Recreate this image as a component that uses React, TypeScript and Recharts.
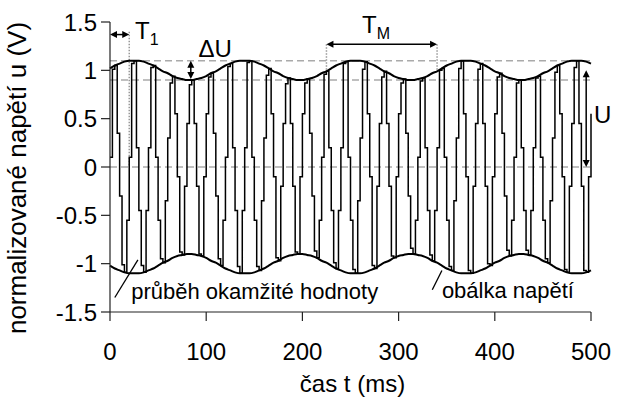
import React from "react"
import { LineChart, Line, XAxis, YAxis, ReferenceLine, ReferenceDot } from "recharts"

const FONT = '"Liberation Sans", Arial, sans-serif'

const xTicks = [0, 100, 200, 300, 400, 500]
const yTicks = [-1.5, -1, -0.5, 0, 0.5, 1, 1.5]

// envelope amplitude (V), one value every 5 ms from 0 to 500 ms
const ENV_STEP = 5
const envelope = [
  1.02, 1.05, 1.07, 1.09, 1.1,
  1.1, 1.1, 1.09, 1.07, 1.05, 1.02, 0.99, 0.97, 0.94, 0.92, 0.91, 0.9, 0.9, 0.91, 0.92, 0.94, 0.97, 0.99, 1.02, 1.05, 1.07, 1.09, 1.1,
  1.1, 1.1, 1.09, 1.07, 1.05, 1.02, 0.99, 0.97, 0.94, 0.92, 0.91, 0.9, 0.9, 0.91, 0.92, 0.94, 0.97, 0.99, 1.02, 1.05, 1.07, 1.09, 1.1,
  1.1, 1.1, 1.09, 1.07, 1.05, 1.02, 0.99, 0.97, 0.94, 0.92, 0.91, 0.9, 0.9, 0.91, 0.92, 0.94, 0.97, 0.99, 1.02, 1.05, 1.07, 1.09, 1.1,
  1.1, 1.1, 1.09, 1.07, 1.05, 1.02, 0.99, 0.97, 0.94, 0.92, 0.91, 0.9, 0.9, 0.91, 0.92, 0.94, 0.97, 0.99, 1.02, 1.05, 1.07, 1.09, 1.1,
  1.1, 1.1, 1.09, 1.07,
]

// sampled instantaneous voltage (V), one sample every 2.5 ms, held between samples
const SAMPLE_STEP = 2.5
const samples = [
  0.1,
  1.01, 1.05, 0.35, -0.3, -1.01, -1.09, -0.55, 0.1, 1.07, 1.1, 0.2, -0.45, -1.02, -1.09, -0.45, 0.2,
  1.03, 1.05, 0.1, -0.55, -0.95, -0.99, -0.35, 0.3, 0.87, 0.94, 0.55, -0.1, -0.88, -0.91, -0.2, 0.45,
  0.85, 0.9, 0.45, -0.2, -0.9, -0.92, -0.1, 0.55, 0.93, 0.97, 0.35, -0.3, -0.95, -1.02, -0.55, 0.1,
  1.04, 1.07, 0.2, -0.45, -1.03, -1.1, -0.45, 0.2, 1.08, 1.1, 0.1, -0.55, -1.03, -1.07, -0.35, 0.3,
  0.95, 1.02, 0.55, -0.1, -0.94, -0.97, -0.2, 0.45, 0.86, 0.92, 0.45, -0.2, -0.88, -0.9, -0.1, 0.55,
  0.87, 0.91, 0.35, -0.3, -0.87, -0.94, -0.55, 0.1, 0.96, 0.99, 0.2, -0.45, -0.99, -1.05, -0.45, 0.2,
  1.07, 1.09, 0.1, -0.55, -1.06, -1.1, -0.35, 0.3, 1.01, 1.09, 0.55, -0.1, -1.02, -1.05, -0.2, 0.45,
  0.93, 0.99, 0.45, -0.2, -0.92, -0.94, -0.1, 0.55, 0.87, 0.91, 0.35, -0.3, -0.84, -0.9, -0.55, 0.1,
  0.89, 0.92, 0.2, -0.45, -0.91, -0.97, -0.45, 0.2, 1.0, 1.02, 0.1, -0.55, -1.03, -1.07, -0.35, 0.3,
  1.02, 1.1, 0.55, -0.1, -1.07, -1.1, -0.2, 0.45, 1.01, 1.07, 0.45, -0.2, -1.0, -1.02, -0.1, 0.55,
  0.93, 0.97, 0.35, -0.3, -0.86, -0.92, -0.55, 0.1, 0.87, 0.9, 0.2, -0.45, -0.86, -0.91, -0.45, 0.2,
  0.92, 0.94, 0.1, -0.55, -0.95, -0.99, -0.35, 0.3, 0.98, 1.05, 0.55, -0.1, -1.06, -1.09, -0.2, 0.45,
  1.03, 1.1, 0.45, -0.2, -1.07, -1.09, -0.1, 0.55,
]

// both series share one time axis; each row carries whichever values exist at that instant
const rows = new Map<number, { t: number; u?: number; top?: number; bottom?: number }>()
samples.forEach((v, i) => {
  const t = i * SAMPLE_STEP
  rows.set(t, { t, u: v })
})
envelope.forEach((e, i) => {
  const t = i * ENV_STEP
  const row = rows.get(t) || { t }
  row.top = e
  row.bottom = -e
  rows.set(t, row)
})
const data = Array.from(rows.values()).sort((a, b) => a.t - b.t)

const fmtY = (v: number) => String(v)

// straight line with an arrow head at both ends
function DoubleArrow(props: any) {
  const { x1, y1, x2, y2 } = props
  const dx = x2 - x1
  const dy = y2 - y1
  const len = Math.hypot(dx, dy) || 1
  const ux = dx / len
  const uy = dy / len
  const hl = 7
  const hw = 3.5
  const head = (x: number, y: number, ax: number, ay: number) =>
    `${x},${y} ${x - ax * hl - ay * hw},${y - ay * hl + ax * hw} ${x - ax * hl + ay * hw},${y - ay * hl - ax * hw}`
  return (
    <g>
      <line x1={x1 + ux * 5} y1={y1 + uy * 5} x2={x2 - ux * 5} y2={y2 - uy * 5} stroke="#000" strokeWidth={1.5} />
      <polygon points={head(x2, y2, ux, uy)} fill="#000" />
      <polygon points={head(x1, y1, -ux, -uy)} fill="#000" />
    </g>
  )
}

const label = (text: string, sub?: string, size = 24) => (p: any) => (
  <text x={p.cx} y={p.cy} fontFamily={FONT} fontSize={size} fill="#000">
    {text}
    {sub && (
      <tspan dy={6} fontSize={16}>
        {sub}
      </tspan>
    )}
  </text>
)

function YTitle(props: any) {
  const vb = props.viewBox || { x: 0 }
  const cx = vb.x + 17
  const cy = 178
  return (
    <text
      x={cx}
      y={cy}
      transform={`rotate(-90 ${cx} ${cy})`}
      textAnchor="middle"
      dominantBaseline="central"
      fontFamily={FONT}
      fontSize={26}
      fill="#000"
    >
      normalizované napětí u (V)
    </text>
  )
}

function XTitle(props: any) {
  const vb = props.viewBox || { x: 110, width: 481 }
  return (
    <text x={vb.x + vb.width / 2 + 2} y={392} textAnchor="middle" fontFamily={FONT} fontSize={24} fill="#000">
      čas t (ms)
    </text>
  )
}

const dashed = { stroke: "#aaa", strokeWidth: 1.5, strokeDasharray: "7 4" }
const dotted = { stroke: "#999", strokeWidth: 1.5, strokeDasharray: "1.5 1.5" }
const axisStroke = { stroke: "#222", strokeWidth: 1.2 }
const tickFont = { fill: "#000", fontSize: 24, fontFamily: FONT }

export default function App() {
  return (
    <div style={{ position: "absolute", left: 0, top: 0, background: "#fff" }}>
      <LineChart width={617} height={401} data={data} margin={{ top: 22, right: 26, bottom: 0, left: 0 }}>
        <XAxis
          dataKey="t"
          type="number"
          domain={[0, 500]}
          ticks={xTicks}
          tickSize={9}
          tickMargin={22}
          height={89}
          axisLine={axisStroke}
          tickLine={axisStroke}
          tick={tickFont}
          label={<XTitle />}
        />
        <YAxis
          type="number"
          domain={[-1.5, 1.5]}
          ticks={yTicks}
          tickFormatter={fmtY}
          tickSize={9}
          tickMargin={4}
          width={110}
          axisLine={axisStroke}
          tickLine={axisStroke}
          tick={tickFont}
          label={<YTitle />}
        />

        <ReferenceLine y={1.1} {...dashed} />
        <ReferenceLine y={0.9} {...dashed} />
        <ReferenceLine y={0} {...dashed} />

        <ReferenceLine segment={[{ x: 20, y: 1.4 }, { x: 20, y: 0 }]} {...dotted} />
        <ReferenceLine segment={[{ x: 225, y: 1.27 }, { x: 225, y: 1.0 }]} {...dotted} />
        <ReferenceLine segment={[{ x: 340, y: 1.27 }, { x: 340, y: 1.0 }]} {...dotted} />

        <Line dataKey="u" type="stepAfter" stroke="#000" strokeWidth={1.5} dot={false} connectNulls isAnimationActive={false} />
        <Line dataKey="top" type="monotone" stroke="#000" strokeWidth={2} dot={false} connectNulls isAnimationActive={false} />
        <Line dataKey="bottom" type="monotone" stroke="#000" strokeWidth={2} dot={false} connectNulls isAnimationActive={false} />

        <ReferenceLine segment={[{ x: 0, y: 1.37 }, { x: 20, y: 1.37 }]} shape={DoubleArrow} />
        <ReferenceLine segment={[{ x: 84, y: 1.1 }, { x: 84, y: 0.91 }]} shape={DoubleArrow} />
        <ReferenceLine segment={[{ x: 225, y: 1.27 }, { x: 340, y: 1.27 }]} shape={DoubleArrow} />
        <ReferenceLine segment={[{ x: 495, y: 1.0 }, { x: 495, y: 0 }]} shape={DoubleArrow} ifOverflow="visible" />

        <ReferenceLine segment={[{ x: 5, y: -1.35 }, { x: 29, y: -0.96 }]} stroke="#000" strokeWidth={1.3} />
        <ReferenceLine segment={[{ x: 335, y: -1.27 }, { x: 345, y: -1.07 }]} stroke="#000" strokeWidth={1.3} />

        <ReferenceDot x={26} y={1.32} r={0} ifOverflow="visible" shape={label("T", "1")} />
        <ReferenceDot x={92} y={1.14} r={0} ifOverflow="visible" shape={label("ΔU")} />
        <ReferenceDot x={262} y={1.39} r={0} ifOverflow="visible" shape={label("T", "M")} />
        <ReferenceDot x={503} y={0.46} r={0} ifOverflow="visible" shape={label("U")} />
        <ReferenceDot x={22} y={-1.37} r={0} ifOverflow="visible" shape={label("průběh okamžité hodnoty", undefined, 22)} />
        <ReferenceDot x={345} y={-1.36} r={0} ifOverflow="visible" shape={label("obálka napětí", undefined, 22)} />
      </LineChart>
    </div>
  )
}
